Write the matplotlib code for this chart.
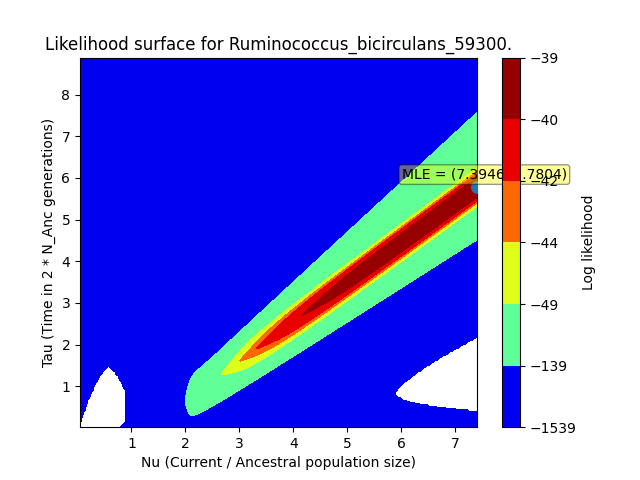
import numpy as np
import matplotlib.pyplot as plt

species = 'Ruminococcus_bicirculans_59300'
mle_nu, mle_tau = 7.3946, 5.7804
max_ll = -39.05

# contour levels and the colour of each band
levels = [-1539, -139, -49, -44, -42, -40, -39]
band_pos = [0.1, 0.467, 0.62, 0.80, 0.91, 0.978]

nu_lim = (0.047, mle_nu)
tau_lim = (0.014, 8.89)
x_ticks = [1, 2, 3, 4, 5, 6, 7]
y_ticks = [1, 2, 3, 4, 5, 6, 7, 8]

# shape of the ridge (tau = slope * nu + icpt) and its widths
ridge_slope, ridge_icpt = 0.95, -1.25
core_w, core_p = 0.25, 3.77
core_edge, green_edge = 0.46, 0.846
up_w = (0.01, 0.24)     # upper edge of the -139 band: a + b * nu
lo_w = (0.35, 0.123)    # lower edge of the -139 band
fall_scale, fall_pow, fall_nu0 = 14.6, 2.7, 1.5
tip_w, tip_sat = 0.2, 20.0

# failed cells (drawn white)
left_hole = (0.58, 1.45, 0.547, 1.5, 0.87)       # centre nu, top tau, half width, power, cut nu
right_hole = (5.9, 0.86, 0.94, 0.8, 0.384, 0.4)  # tip nu, tip tau, up a, up b, low a, low b

nu = np.linspace(nu_lim[0], nu_lim[1], 300)
tau = np.linspace(tau_lim[0], tau_lim[1], 300)
N, T = np.meshgrid(nu, tau)

# drop of the log likelihood along the ridge away from the MLE
along = fall_scale * (np.maximum(N - fall_nu0, 0.05) ** -fall_pow
                      - (mle_nu - fall_nu0) ** -fall_pow)

# drop across the ridge
d = T - (ridge_slope * N + ridge_icpt)
w_up = np.maximum(up_w[0] + up_w[1] * N, 0.6)
w_lo = np.maximum(lo_w[0] + lo_w[1] * N, 0.6)
w = np.where(d > 0, w_up, w_lo)
k = (green_edge - core_edge) / (w - core_edge)
ad = np.abs(d)
d_eff = np.where(ad < core_edge, ad, core_edge + (ad - core_edge) * k)
across = (d_eff / core_w) ** core_p
# the bands get thin towards the low-nu tip
tip = along / (1 + along / tip_sat) * ad / tip_w

ll = np.maximum(max_ll - along - across - tip, levels[0])

c_nu, top, hw, pw, cut = left_hole
cut_nu = cut - 0.13 * np.clip(1 - T / 0.12, 0, 1)
left = (N < cut_nu) & (T < top * (1 - (np.abs(N - c_nu) / hw) ** pw))
t_nu, t_tau, ua, ub, la, lb = right_hole
dn = np.maximum(N - t_nu, 0)
right = (N > t_nu) & (T < t_tau + ua * dn ** ub) & (T > t_tau - la * dn ** lb)
ll[left | right] = np.nan

fig = plt.figure(figsize=(6.4, 4.8), dpi=100)
ax = plt.gca()
cs = ax.contourf(N, T, ll, levels=levels, colors=plt.cm.jet(band_pos))
ax.scatter([mle_nu], [mle_tau], s=70, zorder=3)
ax.annotate(f'MLE = ({mle_nu}, {mle_tau})', xy=(mle_nu, mle_tau),
            xytext=(-54, 9), textcoords='offset points', va='center',
            bbox=dict(boxstyle='round,pad=0.2', fc='yellow', alpha=0.4))
ax.set_xticks(x_ticks)
ax.set_yticks(y_ticks)
ax.set_xlim(nu_lim)
ax.set_ylim(tau_lim)
ax.set_xlabel('Nu (Current / Ancestral population size)')
ax.set_ylabel('Tau (Time in 2 * N_Anc generations)')
ax.set_title(f'Likelihood surface for {species}.')
plt.colorbar(cs, label='Log likelihood')
plt.savefig('out.png')
